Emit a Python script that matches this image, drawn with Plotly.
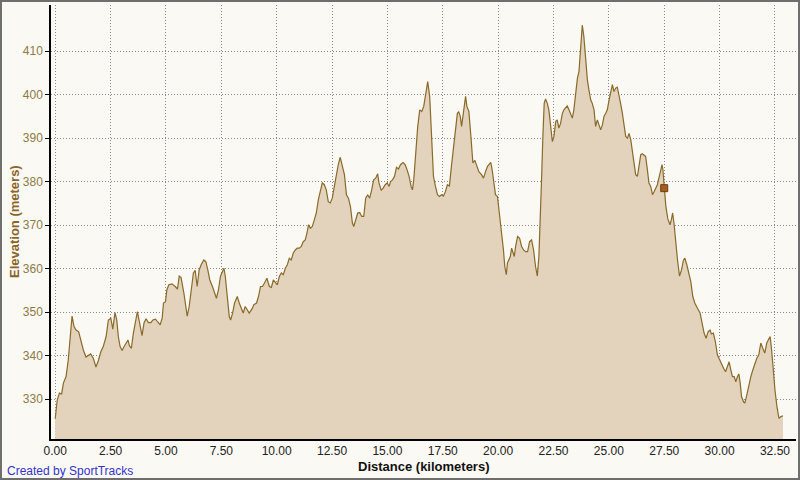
import plotly.graph_objects as go

distance_km = [
    0.00, 0.09, 0.19, 0.29, 0.37, 0.49, 0.59, 0.67, 0.76, 0.85, 0.94, 1.06, 1.15, 1.27, 1.39, 1.50,
    1.60, 1.72, 1.84, 1.95, 2.06, 2.17, 2.30, 2.40, 2.51, 2.60, 2.70, 2.78, 2.85, 2.93, 3.02, 3.11,
    3.20, 3.29, 3.35, 3.44, 3.53, 3.62, 3.71, 3.80, 3.92, 4.01, 4.10, 4.21, 4.32, 4.41, 4.53, 4.62,
    4.74, 4.83, 4.89, 4.98, 5.04, 5.13, 5.27, 5.42, 5.52, 5.60, 5.68, 5.81, 5.90, 5.96, 6.05, 6.14,
    6.24, 6.32, 6.41, 6.50, 6.59, 6.71, 6.80, 6.89, 6.98, 7.10, 7.19, 7.28, 7.37, 7.46, 7.55, 7.62,
    7.68, 7.77, 7.86, 7.92, 8.01, 8.10, 8.22, 8.31, 8.40, 8.49, 8.58, 8.67, 8.76, 8.88, 8.97, 9.09,
    9.18, 9.27, 9.36, 9.45, 9.56, 9.67, 9.76, 9.85, 9.94, 10.03, 10.12, 10.21, 10.30, 10.39, 10.48,
    10.57, 10.66, 10.75, 10.84, 10.93, 11.02, 11.11, 11.20, 11.29, 11.37, 11.44, 11.52, 11.61, 11.70,
    11.79, 11.88, 11.97, 12.06, 12.15, 12.24, 12.33, 12.42, 12.51, 12.60, 12.69, 12.78, 12.87, 12.96,
    13.06, 13.15, 13.24, 13.33, 13.42, 13.48, 13.57, 13.66, 13.75, 13.84, 13.93, 14.02, 14.11, 14.20,
    14.29, 14.38, 14.47, 14.56, 14.62, 14.72, 14.81, 14.90, 14.99, 15.08, 15.14, 15.23, 15.32, 15.41,
    15.50, 15.59, 15.71, 15.80, 15.89, 15.98, 16.07, 16.13, 16.19, 16.28, 16.37, 16.46, 16.55, 16.64,
    16.73, 16.82, 16.91, 16.96, 17.02, 17.08, 17.17, 17.26, 17.35, 17.44, 17.53, 17.62, 17.71, 17.80,
    17.89, 17.98, 18.07, 18.16, 18.22, 18.29, 18.35, 18.41, 18.47, 18.53, 18.59, 18.68, 18.77, 18.86,
    18.95, 19.04, 19.13, 19.25, 19.34, 19.43, 19.52, 19.61, 19.67, 19.73, 19.82, 19.88, 19.97, 20.06,
    20.15, 20.24, 20.30, 20.37, 20.42, 20.48, 20.55, 20.61, 20.66, 20.73, 20.79, 20.88, 20.97, 21.06,
    21.15, 21.24, 21.33, 21.42, 21.51, 21.60, 21.69, 21.77, 21.84, 21.90, 21.96, 22.02, 22.08, 22.14,
    22.22, 22.29, 22.37, 22.45, 22.52, 22.60, 22.67, 22.74, 22.82, 22.90, 22.97, 23.05, 23.12, 23.20,
    23.27, 23.35, 23.42, 23.50, 23.58, 23.65, 23.73, 23.80, 23.87, 23.95, 24.03, 24.10, 24.18, 24.25,
    24.33, 24.40, 24.48, 24.55, 24.63, 24.71, 24.78, 24.86, 24.93, 25.01, 25.08, 25.16, 25.23, 25.31,
    25.38, 25.46, 25.53, 25.61, 25.68, 25.76, 25.84, 25.91, 25.99, 26.06, 26.13, 26.21, 26.29, 26.36,
    26.44, 26.51, 26.58, 26.66, 26.74, 26.81, 26.89, 26.97, 27.04, 27.12, 27.19, 27.26, 27.34, 27.40,
    27.44, 27.49, 27.57, 27.66, 27.76, 27.82, 27.88, 27.94, 28.02, 28.10, 28.19, 28.28, 28.37, 28.43,
    28.52, 28.61, 28.70, 28.79, 28.88, 29.00, 29.12, 29.21, 29.30, 29.39, 29.48, 29.57, 29.63, 29.72,
    29.81, 29.90, 30.00, 30.09, 30.18, 30.27, 30.36, 30.43, 30.51, 30.58, 30.66, 30.73, 30.81, 30.87,
    30.93, 30.99, 31.08, 31.14, 31.23, 31.32, 31.41, 31.50, 31.59, 31.68, 31.77, 31.86, 31.95, 32.04,
    32.13, 32.22, 32.28, 32.35, 32.40, 32.50, 32.59, 32.68, 32.77, 32.86,
]

elevation_m = [
    325.5, 329.8, 331.4, 331.2, 333.7, 335.2, 339.0, 343.6, 349.1, 346.7, 345.9, 345.5, 343.6, 341.3, 339.7, 340.0,
    340.4, 339.4, 337.4, 338.9, 340.9, 342.1, 344.4, 348.2, 348.6, 346.1, 349.9, 348.2, 344.4, 342.1, 341.2, 342.1,
    342.9, 343.6, 342.3, 341.7, 345.2, 348.2, 350.1, 347.8, 344.6, 347.5, 348.5, 347.6, 347.6, 348.2, 348.4, 347.8,
    347.1, 348.6, 352.1, 352.4, 355.1, 356.3, 356.5, 355.9, 355.3, 358.3, 358.0, 354.4, 350.9, 349.1, 351.3, 355.1,
    359.0, 359.6, 355.9, 359.7, 360.9, 362.0, 361.6, 359.7, 357.4, 355.9, 354.4, 353.2, 355.1, 358.2, 359.3, 360.1,
    358.2, 352.8, 349.0, 348.2, 349.8, 352.1, 353.6, 352.1, 350.9, 349.8, 351.3, 350.5, 349.8, 350.7, 351.7, 352.1,
    353.6, 355.9, 355.9, 356.7, 357.8, 355.9, 355.7, 357.4, 356.7, 356.3, 358.2, 359.0, 358.6, 360.1, 360.9,
    362.4, 362.0, 363.6, 364.3, 364.7, 364.7, 365.1, 366.2, 366.6, 368.2, 370.1, 369.3, 369.7, 371.2,
    372.8, 375.8, 378.1, 379.7, 379.3, 378.1, 375.4, 375.1, 376.2, 378.9, 381.2, 383.9, 385.6, 383.9,
    381.6, 377.0, 376.2, 374.3, 370.5, 369.7, 371.2, 372.8, 372.9, 372.0, 372.0, 376.2, 377.0, 376.2,
    378.1, 380.4, 380.8, 381.8, 379.7, 378.0, 378.5, 379.3, 379.7, 378.9, 380.0, 380.4, 381.2, 383.3,
    382.9, 383.9, 384.4, 383.9, 382.7, 381.2, 378.9, 378.1, 380.4, 386.6, 392.7, 396.5, 396.1, 397.3,
    400.3, 403.0, 399.6, 394.2, 386.6, 381.2, 378.9, 377.0, 376.6, 377.0, 376.7, 377.7, 379.3, 379.0,
    383.5, 388.1, 391.9, 395.7, 396.1, 395.0, 392.7, 395.0, 398.0, 399.6, 397.3, 396.1, 390.4, 384.3,
    384.9, 383.5, 382.3, 381.6, 380.8, 382.3, 383.5, 384.1, 384.4, 382.7, 379.7, 377.0, 376.6, 372.8,
    368.9, 364.3, 360.5, 358.6, 361.3, 362.0, 362.8, 364.7, 363.6, 362.8, 365.1, 367.4, 367.0, 365.1,
    364.3, 363.9, 363.9, 366.2, 366.6, 364.3, 360.5, 358.3, 362.8, 370.5, 380.4, 390.4, 398.0, 399.0,
    398.0, 396.5, 393.4, 389.2, 390.4, 393.8, 394.2, 392.3, 393.4, 395.7, 396.5, 396.9, 397.4, 396.5,
    395.7, 394.6, 396.5, 400.3, 403.8, 405.3, 411.8, 416.0, 413.4, 408.0, 403.4, 401.1, 398.8, 398.0,
    396.5, 392.7, 394.2, 393.1, 391.9, 393.1, 395.0, 395.7, 396.5, 398.8, 400.3, 402.3, 400.7, 401.5,
    401.7, 400.0, 398.0, 395.7, 392.7, 390.4, 390.0, 391.1, 389.6, 387.3, 384.3, 381.6, 381.2, 383.5,
    386.2, 386.4, 386.2, 385.8, 382.7, 379.7, 378.9, 377.0, 377.7, 378.5, 379.3, 380.8, 382.7, 383.9,
    382.7, 378.5, 374.5, 371.5, 370.1, 371.2, 372.8, 370.5, 365.9, 362.0, 358.3, 359.7, 362.0, 362.4,
    360.9, 359.0, 357.0, 353.6, 352.1, 350.9, 349.8, 347.5, 345.2, 344.0, 345.5, 345.9, 345.0, 345.2,
    343.2, 340.2, 339.0, 337.9, 337.1, 336.3, 337.5, 338.6, 336.7, 335.2, 335.2, 334.0, 335.2, 335.8,
    333.7, 330.6, 329.4, 329.1, 331.0, 333.3, 335.2, 336.7, 338.3, 339.4, 340.2, 342.9, 341.7, 340.6,
    342.9, 344.0, 344.4, 341.3, 337.5, 332.1, 328.3, 325.6, 326.0, 326.2,
]

marker_km = [27.5]
marker_elev = [378.5]

x_ticks = [0.0, 2.5, 5.0, 7.5, 10.0, 12.5, 15.0, 17.5, 20.0, 22.5, 25.0, 27.5, 30.0, 32.5]
y_ticks = [330, 340, 350, 360, 370, 380, 390, 400, 410]

BG = "#FBF9F4"
W, H = 800, 480
ML, MR, MT, MB = 51, 4, 5, 41
PW, PH = W - ML - MR, H - MT - MB

fig = go.Figure()
fig.add_trace(go.Scatter(
    x=distance_km, y=elevation_m, mode="lines",
    line=dict(color="#8A6A2A", width=1.2),
    fill="tozeroy", fillcolor="#E3D3BC",
    hoverinfo="skip", showlegend=False,
))
fig.add_trace(go.Scatter(
    x=marker_km, y=marker_elev, mode="markers",
    marker=dict(symbol="square", size=7, color="#A55F1C",
                line=dict(color="#6E3E10", width=1)),
    hoverinfo="skip", showlegend=False,
))

fig.update_layout(
    width=W, height=H,
    margin=dict(l=ML, r=MR, t=MT, b=MB, pad=0),
    paper_bgcolor=BG, plot_bgcolor=BG,
    font=dict(family="Liberation Sans, Arial, sans-serif", size=12, color="#222222"),
    xaxis=dict(
        range=[-0.19, 33.45], tickvals=x_ticks, tickformat=".2f",
        showgrid=True, gridcolor="#8A8A8A", griddash="1px,2px", gridwidth=1,
        showline=True, linecolor="#000000", linewidth=2,
        ticks="", zeroline=False,
        tickfont=dict(size=12, color="#222222"),
    ),
    yaxis=dict(
        range=[320.85, 420.6], tickvals=y_ticks,
        showgrid=True, gridcolor="#8A8A8A", griddash="1px,2px", gridwidth=1,
        showline=True, linecolor="#000000", linewidth=1.5,
        ticks="outside", ticklen=4, tickcolor="#000000", tickwidth=1,
        zeroline=False,
        tickfont=dict(size=12, color="#8C7B45"),
    ),
    shapes=[dict(
        type="rect", xref="paper", yref="paper",
        x0=-ML / PW + 0.0013, x1=1 + MR / PW - 0.0013,
        y0=-MB / PH + 0.0023, y1=1 + MT / PH - 0.0023,
        line=dict(color="#6E6E6E", width=2), fillcolor="rgba(0,0,0,0)", layer="above",
    )],
    annotations=[
        dict(text="<b>Distance (kilometers)</b>", xref="paper", yref="paper",
             x=0.5, y=-27 / PH, xanchor="center", yanchor="middle", showarrow=False,
             font=dict(size=13, color="#111111")),
        dict(text="<b>Elevation (meters)</b>", xref="paper", yref="paper",
             x=-(ML - 14) / PW, y=0.5, xanchor="center", yanchor="middle", showarrow=False,
             textangle=-90, font=dict(size=13, color="#8A6428")),
        dict(text="Created by SportTracks", xref="paper", yref="paper",
             x=-(ML - 5) / PW, y=-32 / PH, xanchor="left", yanchor="middle", showarrow=False,
             font=dict(size=12, color="#3333CC")),
    ],
)

fig.write_html(
    "out.html",
    config={"displayModeBar": False},
    post_script="document.body.style.margin='0';document.body.style.padding='0';document.body.style.overflow='hidden';",
)
